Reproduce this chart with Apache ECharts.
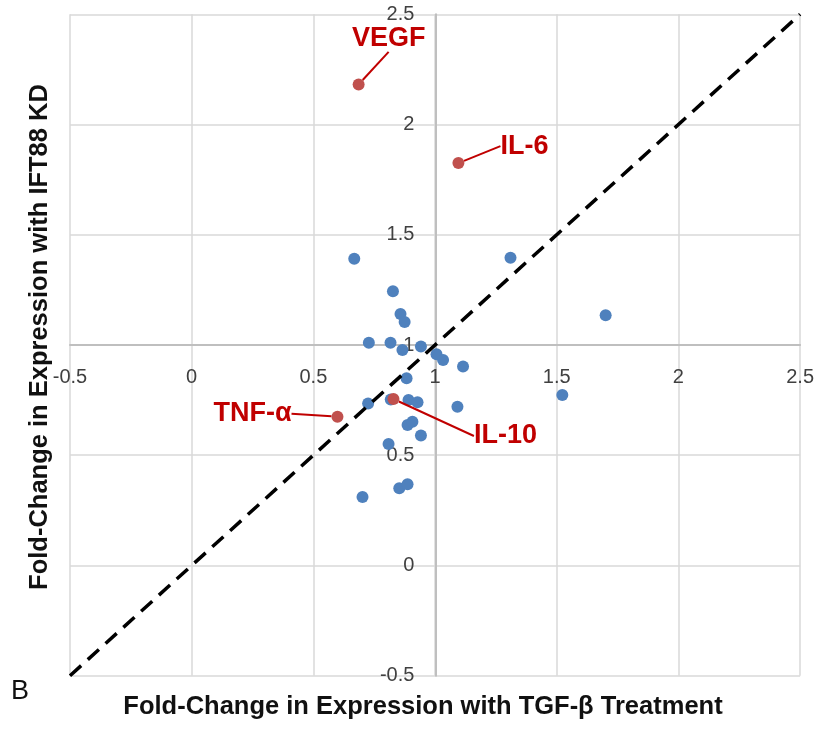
<!DOCTYPE html>
<html>
<head>
<meta charset="utf-8">
<script src="https://cdn.jsdelivr.net/npm/echarts@6/dist/echarts.min.js"></script>
<style>html,body{margin:0;padding:0;background:#fff}#c{width:817px;height:729px}</style>
</head>
<body>
<div id="c"></div>
<script>
// ---- data ----
const blueX = [0.668,0.827,0.858,0.875,0.728,0.817,0.942,0.866,1.006,1.033,1.115,0.883,0.725,0.818,0.891,0.928,1.092,0.887,0.907,0.942,0.809,0.853,0.887,0.702,1.310,1.701,1.523];
const blueY = [1.391,1.244,1.141,1.104,1.010,1.010,0.993,0.977,0.958,0.932,0.902,0.849,0.735,0.753,0.750,0.740,0.720,0.637,0.652,0.590,0.551,0.350,0.368,0.311,1.396,1.135,0.773];
const redNames = ['VEGF','IL-6','TNF-\u03b1','IL-10'];
const redX = [0.686,1.096,0.599,0.829];
const redY = [2.182,1.825,0.675,0.755];
const refLineX = [-0.5, 2.5];
const refLineY = [-0.5, 2.5];
const axisMin = -0.5, axisMax = 2.5, axisStep = 0.5, crossAt = 1;
const xTitle = 'Fold-Change in Expression with TGF-\u03b2 Treatment';
const yTitle = 'Fold-Change in Expression with IFT88 KD';
const panelLetter = 'B';

// ---- layout / style ----
const W = 817, H = 729;
const G = {left: 70, right: 16.3, top: 14.3, bottom: 53.3};
const plotW = W - G.left - G.right, plotH = H - G.top - G.bottom;
const xOff = -plotH * (crossAt - axisMin) / (axisMax - axisMin);
const yOff = -plotW * (crossAt - axisMin) / (axisMax - axisMin);
const labelShift = {
  'VEGF': [30, -46],
  'IL-6': [66, -17],
  'TNF-\u03b1': [-85, -3],
  'IL-10': [112, 37]
};
const tickFont = {fontFamily: 'Liberation Sans', fontSize: 20, color: '#404040'};
const gridLine = {color: '#d9d9d9', width: 1.5};
const axisLineStyle = {color: '#bfbfbf', width: 2};

const chart = echarts.init(document.getElementById('c'), null, {renderer: 'canvas'});
const blueData = blueX.map((x, i) => [x, blueY[i]]);
const redData = redX.map((x, i) => ({name: redNames[i], value: [x, redY[i]]}));
const lineData = refLineX.map((x, i) => [x, refLineY[i]]);

chart.setOption({
  animation: false,
  backgroundColor: '#fff',
  grid: G,
  xAxis: {
    type: 'value', min: axisMin, max: axisMax, interval: axisStep,
    position: 'bottom', offset: xOff,
    axisLine: {show: true, onZero: false, lineStyle: axisLineStyle},
    axisTick: {show: false},
    axisLabel: Object.assign({margin: 22, showMinLabel: true, showMaxLabel: true}, tickFont),
    splitLine: {show: true, lineStyle: gridLine}
  },
  yAxis: {
    type: 'value', min: axisMin, max: axisMax, interval: axisStep,
    position: 'left', offset: yOff,
    axisLine: {show: true, onZero: false, lineStyle: axisLineStyle},
    axisTick: {show: false},
    axisLabel: Object.assign({margin: 21, showMinLabel: true, showMaxLabel: true}, tickFont),
    splitLine: {show: true, lineStyle: gridLine}
  },
  series: [
    {
      type: 'scatter', data: blueData, symbolSize: 12, z: 2,
      itemStyle: {color: '#4F81BD', opacity: 1}
    },
    {
      type: 'scatter', data: redData, symbolSize: 12, z: 3,
      itemStyle: {color: '#C0504D', opacity: 1},
      label: {
        show: true, position: 'inside', formatter: '{b}',
        fontFamily: 'Liberation Sans', fontWeight: 'bold', fontSize: 27, color: '#C00000'
      },
      labelLayout: function (p) {
        const s = labelShift[redNames[p.dataIndex]];
        return {dx: s[0], dy: s[1]};
      },
      labelLine: {show: true, lineStyle: {color: '#C00000', width: 2}}
    },
    {
      type: 'line', data: lineData, symbol: 'none', z: 4, silent: true,
      lineStyle: {color: '#000', width: 3.5, type: [15, 9]}
    }
  ],
  graphic: [
    {type: 'text', x: 423, y: 707, style: {text: xTitle, font: 'bold 25.5px "Liberation Sans"', fill: '#111', align: 'center', verticalAlign: 'middle'}},
    {type: 'text', x: 40, y: 337, rotation: Math.PI / 2, style: {text: yTitle, font: 'bold 25.5px "Liberation Sans"', fill: '#111', align: 'center', verticalAlign: 'middle'}},
    {type: 'text', x: 20, y: 692, style: {text: panelLetter, font: '27px "Liberation Sans"', fill: '#111', align: 'center', verticalAlign: 'middle'}}
  ]
});
</script>
</body>
</html>
